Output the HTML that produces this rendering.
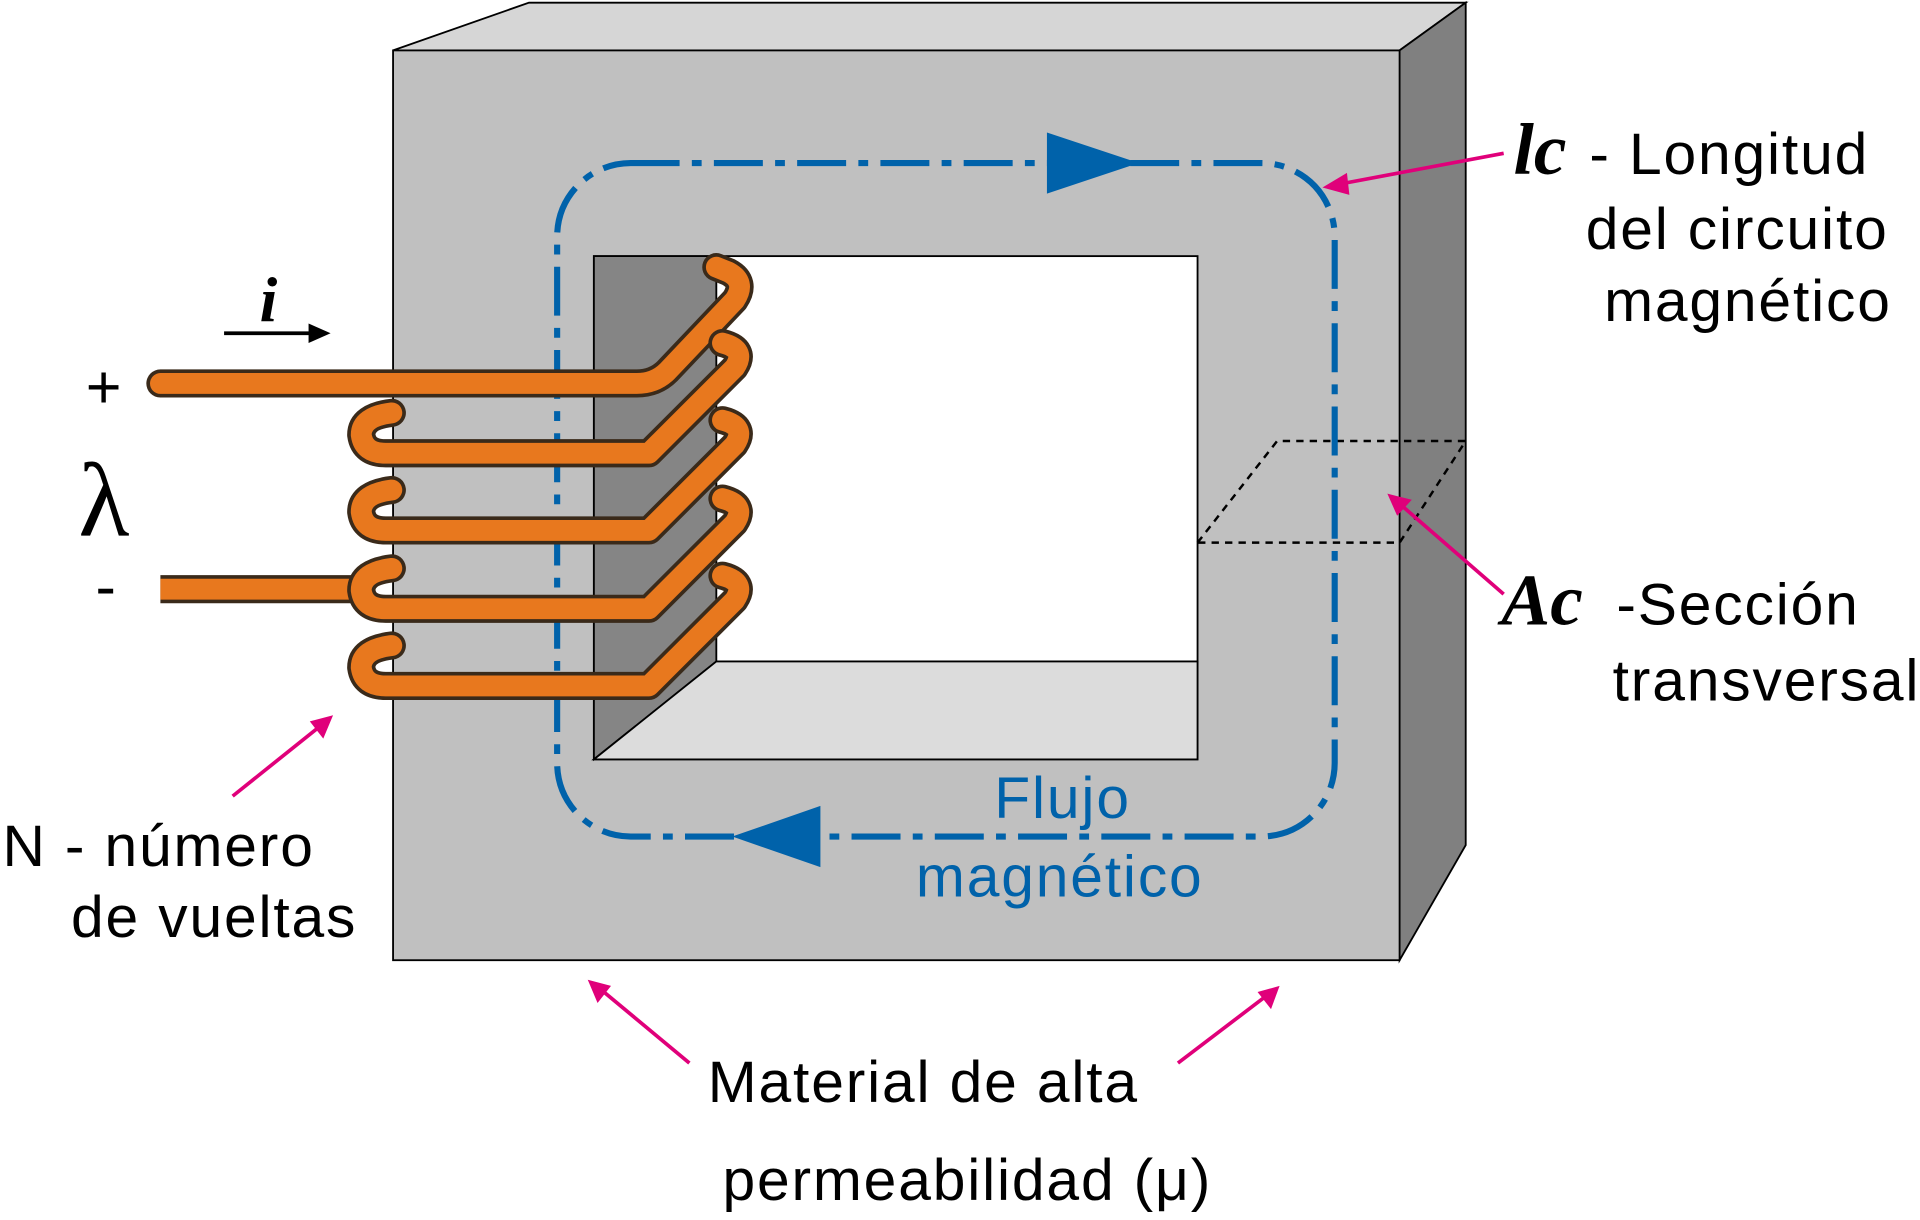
<!DOCTYPE html>
<html><head><meta charset="utf-8"><style>
html,body{margin:0;padding:0;background:#fff;}
svg{display:block;}
text{font-family:"Liberation Sans",sans-serif;}
.lbl{font-size:48px;letter-spacing:1.5px;}
.ser{font-family:"Liberation Serif",serif;font-style:italic;font-weight:bold;}
</style></head><body>
<svg width="1920" height="1220" viewBox="0 0 1568 996" xmlns="http://www.w3.org/2000/svg">
<g stroke="#000" stroke-width="1.5">
<polygon points="321,41 432,2 1197,2 1143,41" fill="#d6d6d6"/>
<polygon points="1143,41 1197,2 1197,690 1143,784" fill="#808080"/>
<rect x="321" y="41" width="822" height="743" fill="#c0c0c0"/>
<rect x="485" y="209" width="493" height="411" fill="#fff"/>
<polygon points="485,209 585,209 585,540 485,620" fill="#858585"/>
<polygon points="485,620 585,540 978,540 978,620" fill="#dcdcdc"/>
</g>
<polygon points="978,443 1043,360 1197,360 1143,443" fill="none" stroke="#000" stroke-width="2" stroke-dasharray="6 5"/>
<g>
<rect x="455" y="133" width="635" height="550" rx="60" fill="none" stroke="#0062aa" stroke-width="5" stroke-dasharray="40 10 8 10"/>
<polygon points="855,108 930,133 855,158" fill="#0062aa"/>
<polygon points="670,658 598,683 670,708" fill="#0062aa"/>
</g>
<g fill="none" stroke-linecap="round" stroke-linejoin="round">
<path d="M131,481 L300,481" stroke="#3a2a1a" stroke-width="23" stroke-linecap="butt"/>
<path d="M131,481 L300,481" stroke="#e8781e" stroke-width="17" stroke-linecap="butt"/>
<path d="M131,313 L520,313 Q535,313 545,303 L600,245 Q610,230 595,222 L585,218" stroke="#3a2a1a" stroke-width="23"/>
<path d="M131,313 L520,313 Q535,313 545,303 L600,245 Q610,230 595,222 L585,218" stroke="#e8781e" stroke-width="17"/>
<g>
<path d="M320,337 Q295,340 295,355 Q297,370 315,370 L530,370 L600,300 Q610,285 590,280" stroke="#3a2a1a" stroke-width="23"/>
<path d="M320,337 Q295,340 295,355 Q297,370 315,370 L530,370 L600,300 Q610,285 590,280" stroke="#e8781e" stroke-width="17"/>
<path d="M320,400 Q295,403 295,418 Q297,433 315,433 L530,433 L600,363 Q610,348 590,343" stroke="#3a2a1a" stroke-width="23"/>
<path d="M320,400 Q295,403 295,418 Q297,433 315,433 L530,433 L600,363 Q610,348 590,343" stroke="#e8781e" stroke-width="17"/>
<path d="M320,464 Q295,467 295,482 Q297,497 315,497 L530,497 L600,427 Q610,412 590,407" stroke="#3a2a1a" stroke-width="23"/>
<path d="M320,464 Q295,467 295,482 Q297,497 315,497 L530,497 L600,427 Q610,412 590,407" stroke="#e8781e" stroke-width="17"/>
<path d="M320,527 Q295,530 295,545 Q297,560 315,560 L530,560 L600,490 Q610,475 590,470" stroke="#3a2a1a" stroke-width="23"/>
<path d="M320,527 Q295,530 295,545 Q297,560 315,560 L530,560 L600,490 Q610,475 590,470" stroke="#e8781e" stroke-width="17"/>
</g>
</g>
<g stroke="#e0007a" stroke-width="3" fill="#e0007a">
<line x1="1228" y1="125" x2="1095" y2="150"/><polygon points="1080,153 1100,141 1102,159" stroke="none"/>
<line x1="1228" y1="485" x2="1145" y2="413"/><polygon points="1133,403 1153,408 1141,421" stroke="none"/>
<line x1="190" y1="650" x2="260" y2="594"/><polygon points="272,584 264,603 253,589" stroke="none"/>
<line x1="563" y1="868" x2="492" y2="809"/><polygon points="480,800 499,805 488,819" stroke="none"/>
<line x1="962" y1="868" x2="1033" y2="814"/><polygon points="1045,805 1038,824 1027,810" stroke="none"/>
</g>
<g>
<line x1="183" y1="272" x2="258" y2="272" stroke="#000" stroke-width="3"/>
<polygon points="270,272 252,264 252,280" fill="#000"/>
</g>
<text x="212" y="262" class="ser" style="font-size:52px">i</text>
<text x="70" y="333" style="font-size:50px">+</text>
<text x="64" y="437" style="font-family:'Liberation Serif',serif;font-size:86px">λ</text>
<text x="78" y="496" style="font-size:50px">-</text>
<text x="1236" y="142" class="ser" style="font-size:60px">lc</text>
<text class="lbl"><tspan x="1298" y="142">- Longitud</tspan><tspan x="1295" y="203">del circuito</tspan><tspan x="1310" y="262">magnético</tspan></text>
<text x="1226" y="510" class="ser" style="font-size:60px">Ac</text>
<text class="lbl"><tspan x="1320" y="510">-Sección</tspan><tspan x="1317" y="572">transversal</tspan></text>
<text class="lbl"><tspan x="2" y="707">N - número</tspan><tspan x="58" y="765">de vueltas</tspan></text>
<text class="lbl" fill="#0062aa"><tspan x="812" y="668">Flujo</tspan><tspan x="748" y="732">magnético</tspan></text>
<text class="lbl"><tspan x="578" y="900">Material de alta</tspan><tspan x="590" y="980">permeabilidad (μ)</tspan></text>
</svg>
</body></html>
